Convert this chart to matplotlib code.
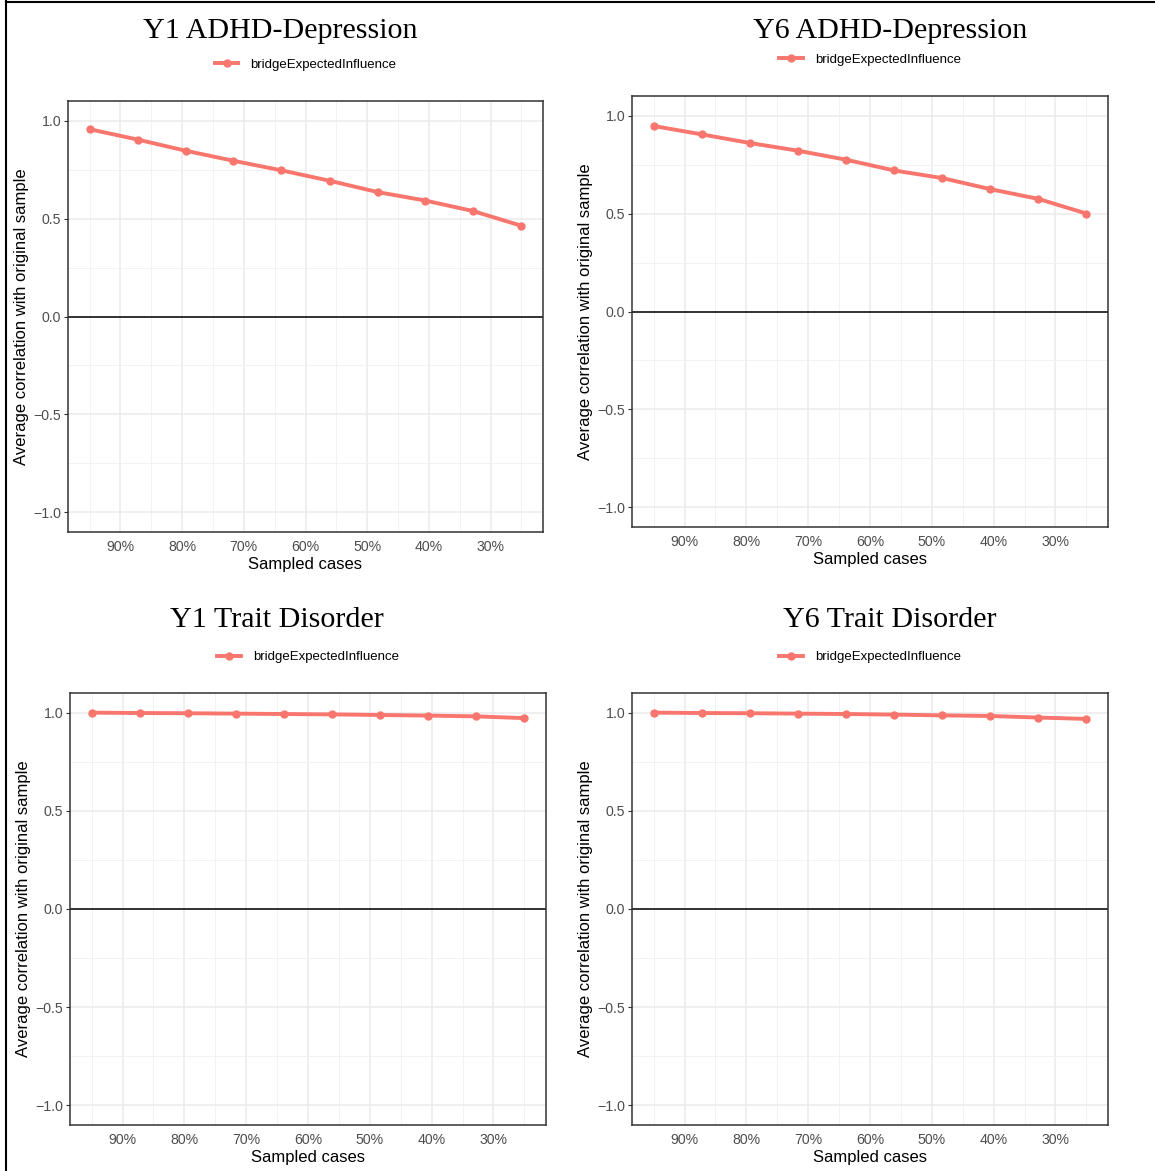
import numpy as np
import matplotlib
matplotlib.use("Agg")
import matplotlib.pyplot as plt
from matplotlib.lines import Line2D

# sampled proportion of cases (x, in %)
sampled = [95, 87.2, 79.4, 71.7, 63.9, 56.1, 48.3, 40.6, 32.8, 25]

titles = ["Y1 ADHD-Depression", "Y6 ADHD-Depression",
          "Y1 Trait Disorder", "Y6 Trait Disorder"]
y1_adhd_dep = [0.956, 0.903, 0.846, 0.795, 0.746, 0.693, 0.635, 0.592, 0.538, 0.463]
y6_adhd_dep = [0.947, 0.904, 0.860, 0.821, 0.775, 0.720, 0.681, 0.625, 0.575, 0.500]
y1_trait = [1.000, 0.998, 0.997, 0.995, 0.993, 0.991, 0.988, 0.985, 0.981, 0.972]
y6_trait = [1.000, 0.998, 0.997, 0.995, 0.993, 0.990, 0.986, 0.983, 0.975, 0.968]
series = [y1_adhd_dep, y6_adhd_dep, y1_trait, y6_trait]
legend_label = "bridgeExpectedInfluence"

xticks = [90, 80, 70, 60, 50, 40, 30]
xtick_labels = ["90%", "80%", "70%", "60%", "50%", "40%", "30%"]
yticks = [-1.0, -0.5, 0.0, 0.5, 1.0]

W, H = 1155, 1171
RED = "#F8766D"
SANS = ["Liberation Sans", "DejaVu Sans"]
SERIF = ["Liberation Serif", "DejaVu Serif"]

# panel boxes in pixels: left, top, right, bottom ; title x, y ; legend y
boxes = [
    (68, 101, 543, 532, 280, 31, 65),
    (632, 96, 1108, 527, 890, 31, 60),
    (70, 693, 546, 1125, 277, 620, 657),
    (632, 693, 1108, 1125, 890, 620, 657),
]

fig = plt.figure(figsize=(W / 100, H / 100), dpi=100)
fig.add_artist(Line2D([6 / W, 6 / W], [0, 1 - 1 / H], color="black", lw=1.5,
                      transform=fig.transFigure))
fig.add_artist(Line2D([6 / W, 1], [1 - 1.5 / H, 1 - 1.5 / H], color="black", lw=1.5,
                      transform=fig.transFigure))

for (l, t, r, b, tx, ty, ly), title, vals in zip(boxes, titles, series):
    ax = fig.add_axes([l / W, 1 - b / H, (r - l) / W, (b - t) / H])
    ax.set_xlim(98.5, 21.5)
    ax.set_ylim(-1.1, 1.1)
    ax.set_xticks(xticks)
    ax.set_xticklabels(xtick_labels)
    ax.set_yticks(yticks)
    ax.set_yticklabels(["\u22121.0", "\u22120.5", "0.0", "0.5", "1.0"])
    ax.set_xticks([95, 85, 75, 65, 55, 45, 35, 25], minor=True)
    ax.set_yticks([-0.75, -0.25, 0.25, 0.75], minor=True)
    ax.grid(which="major", color="#EBEBEB", lw=1.1)
    ax.grid(which="minor", color="#F2F2F2", lw=0.7)
    ax.set_axisbelow(True)
    ax.tick_params(axis="x", which="major", length=0, labelsize=10.2,
                   labelcolor="#4D4D4D", pad=6)
    ax.tick_params(axis="y", which="major", length=3, color="#333333", labelsize=10.2,
                   labelcolor="#4D4D4D", pad=2)
    ax.tick_params(which="minor", length=0)
    for lab in ax.get_xticklabels() + ax.get_yticklabels():
        lab.set_family(SANS)
    for s in ax.spines.values():
        s.set_color("#333333")
        s.set_linewidth(1.1)
    ax.axhline(0, color="black", lw=1.1)
    ax.plot(sampled, vals, color=RED, lw=2.8, marker="o", ms=5, label=legend_label)
    ax.set_xlabel("Sampled cases", family=SANS, fontsize=12, labelpad=2)
    ax.set_ylabel("Average correlation with original sample", family=SANS,
                  fontsize=12, labelpad=3)
    cx = (l + r) / 2 / W
    fig.text(tx / W, 1 - ty / H, title, family=SERIF, fontsize=21.6,
             ha="center", va="center")
    fig.legend(handles=[Line2D([], [], color=RED, lw=2.8, marker="o", ms=5)],
               labels=[legend_label], loc="center", bbox_to_anchor=(cx, 1 - ly / H),
               frameon=False, prop={"family": SANS, "size": 9.5},
               handlelength=1.8, handletextpad=0.9)

fig.savefig("out.png", dpi=100)
